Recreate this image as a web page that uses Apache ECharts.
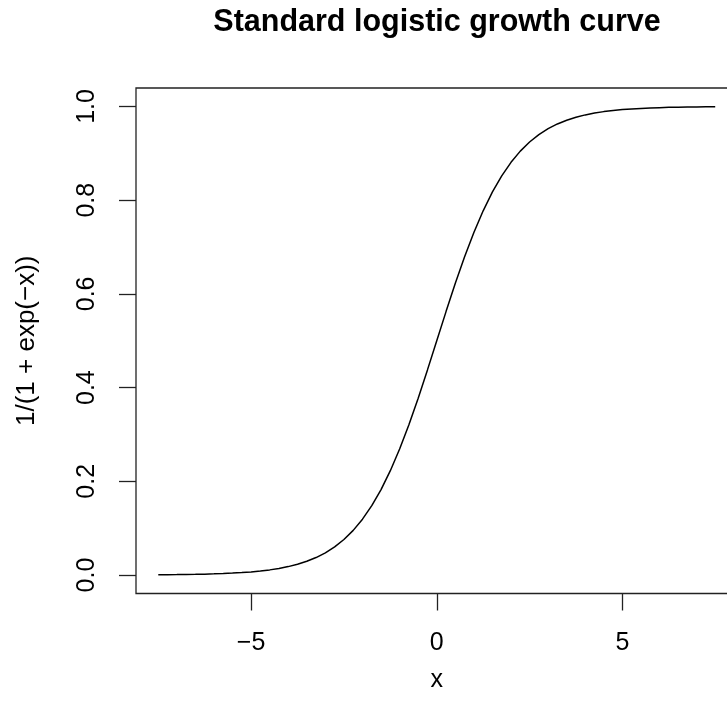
<!DOCTYPE html>
<html>
<head>
<meta charset="utf-8">
<script src="https://cdn.jsdelivr.net/npm/echarts@6/dist/echarts.min.js"></script>
<style>
html,body{margin:0;padding:0;background:#fff;}
#chart{width:727px;height:718px;}
</style>
</head>
<body>
<div id="chart"></div>
<script>
const xValues = [-7.5,-7.25,-7,-6.75,-6.5,-6.25,-6,-5.75,-5.5,-5.25,-5,-4.75,-4.5,-4.25,-4,-3.75,-3.5,-3.25,-3,-2.75,-2.5,-2.25,-2,-1.75,-1.5,-1.25,-1,-0.75,-0.5,-0.25,0,0.25,0.5,0.75,1,1.25,1.5,1.75,2,2.25,2.5,2.75,3,3.25,3.5,3.75,4,4.25,4.5,4.75,5,5.25,5.5,5.75,6,6.25,6.5,6.75,7,7.25,7.5];
const yValues = [0.0006,0.0007,0.0009,0.0012,0.0015,0.0019,0.0025,0.0032,0.0041,0.0052,0.0067,0.0086,0.0110,0.0141,0.0180,0.0230,0.0293,0.0373,0.0474,0.0601,0.0759,0.0953,0.1192,0.1480,0.1824,0.2227,0.2689,0.3208,0.3775,0.4378,0.5000,0.5622,0.6225,0.6792,0.7311,0.7773,0.8176,0.8520,0.8808,0.9047,0.9241,0.9399,0.9526,0.9627,0.9707,0.9770,0.9820,0.9859,0.9890,0.9914,0.9933,0.9948,0.9959,0.9968,0.9975,0.9981,0.9985,0.9988,0.9991,0.9993,0.9994];
const xTicks = [-5, 0, 5];
const yTicks = [0, 0.2, 0.4, 0.6, 0.8, 1.0];
const titleText = 'Standard logistic growth curve';
const xName = 'x';
const yName = '1/(1 + exp(\u2212x))';

const FONT = '"Liberation Sans", Arial, Helvetica, sans-serif';
const chart = echarts.init(document.getElementById('chart'), null, {renderer: 'canvas'});
chart.setOption({
  animation: false,
  backgroundColor: '#ffffff',
  title: {
    text: titleText,
    left: 437, textAlign: 'center',
    top: 7, padding: 0,
    textStyle: {fontFamily: FONT, fontWeight: 'bold', fontSize: 30.5, color: '#000'}
  },
  grid: {
    left: 136, top: 88, right: -10.5, bottom: 718 - 593.5,
    outerBoundsMode: 'none', containLabel: false,
    show: true, borderColor: '#222', borderWidth: 1.3, backgroundColor: 'transparent'
  },
  xAxis: {
    type: 'value', min: -8.1, max: 8.1,
    name: xName, nameLocation: 'middle', nameGap: 74,
    nameTextStyle: {fontFamily: FONT, fontSize: 25, color: '#000'},
    axisLine: {show: false, onZero: false},
    splitLine: {show: false},
    axisTick: {show: true, length: 17, inside: false, customValues: xTicks, lineStyle: {color: '#222', width: 1.3}},
    axisLabel: {
      customValues: xTicks, margin: 37,
      fontFamily: FONT, fontSize: 25, color: '#000',
      formatter: v => String(v).replace('-', '\u2212')
    }
  },
  yAxis: {
    type: 'value', min: -0.0394, max: 1.0394,
    name: yName, nameLocation: 'middle', nameGap: 96, nameRotate: 90,
    nameTextStyle: {fontFamily: FONT, fontSize: 26, color: '#000'},
    axisLine: {show: false, onZero: false},
    splitLine: {show: false},
    axisTick: {show: true, length: 17, inside: false, customValues: yTicks, lineStyle: {color: '#222', width: 1.3}},
    axisLabel: {
      customValues: yTicks, margin: 36, rotate: 90,
      fontFamily: FONT, fontSize: 25, color: '#000',
      formatter: v => v.toFixed(1)
    }
  },
  series: [{
    type: 'line',
    data: xValues.map((x, i) => [x, yValues[i]]),
    showSymbol: false,
    smooth: false,
    lineStyle: {color: '#000', width: 1.5},
    clip: false
  }]
});
</script>
</body>
</html>
